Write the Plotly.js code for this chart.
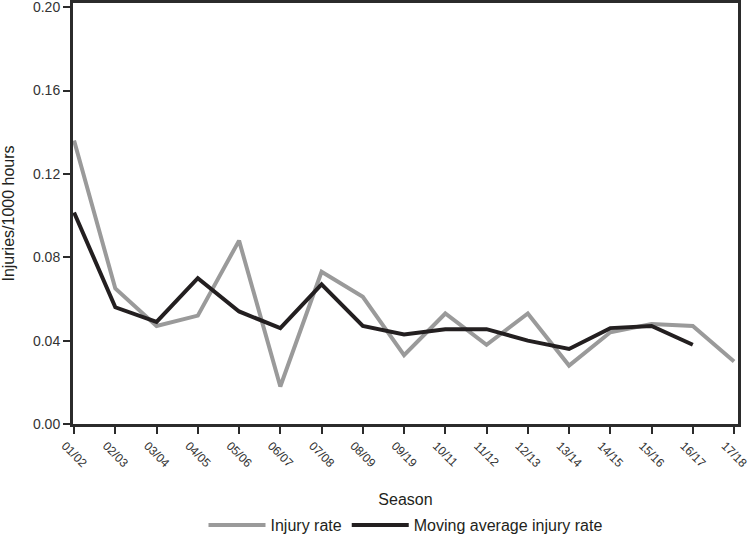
<!DOCTYPE html>
<html>
<head>
<meta charset="utf-8">
<script src="https://cdn.plot.ly/plotly-3.0.1.min.js"></script>
<style>html,body{margin:0;padding:0;background:#fff;overflow:hidden;}#chart{width:750px;height:538px;}</style>
</head>
<body>
<div id="chart"></div>
<script>
var seasons = ["01/02","02/03","03/04","04/05","05/06","06/07","07/08","08/09","09/19","10/11","11/12","12/13","13/14","14/15","15/16","16/17","17/18"];
var injuryRate = [0.136,0.065,0.047,0.052,0.088,0.018,0.073,0.061,0.033,0.053,0.038,0.053,0.028,0.044,0.048,0.047,0.030];
var movingAvg = [0.1015,0.056,0.049,0.070,0.054,0.046,0.067,0.047,0.043,0.0455,0.0455,0.040,0.036,0.046,0.047,0.038,null];
var yTicks = [0,0.04,0.08,0.12,0.16,0.20];
var yTickText = ["0.00","0.04","0.08","0.12","0.16","0.20"];

var font = "Liberation Sans, Arial, sans-serif";
var data = [
  {x: seasons, y: injuryRate, type: "scatter", mode: "lines", name: "Injury rate",
   line: {color: "#9a9a9a", width: 4}},
  {x: seasons, y: movingAvg, type: "scatter", mode: "lines", name: "Moving average injury rate",
   line: {color: "#231f20", width: 4}, connectgaps: false}
];
var layout = {
  width: 750, height: 538,
  margin: {l: 72, r: 11, t: 2, b: 113},
  paper_bgcolor: "#fff", plot_bgcolor: "#fff",
  font: {family: font, size: 13, color: "#333"},
  showlegend: true,
  legend: {orientation: "h", x: 0.5, xanchor: "center", xref: "paper",
           y: 0.024, yanchor: "middle", yref: "container", itemwidth: 57,
           font: {family: font, size: 16, color: "#231f20"}, traceorder: "normal"},
  shapes: [{type: "rect", xref: "paper", yref: "paper", x0: 0, x1: 1, y0: 0, y1: 1,
            line: {color: "#2b2b2b", width: 2}, fillcolor: "rgba(0,0,0,0)", layer: "above"}],
  xaxis: {
    type: "category", range: [-0.05, 16.12],
    showline: true, linecolor: "#2b2b2b", linewidth: 2, mirror: true,
    ticks: "outside", ticklen: 7, tickwidth: 2, tickcolor: "#2b2b2b",
    tickangle: 45, ticklabelshift: -9, ticklabeloverflow: "allow",
    showgrid: false, zeroline: false,
    tickfont: {family: font, size: 12, color: "#333"},
    title: {text: "Season", font: {family: font, size: 16, color: "#231f20"}, standoff: 28},
    automargin: false
  },
  yaxis: {
    range: [-0.0005, 0.2025],
    tickvals: yTicks, ticktext: yTickText,
    showline: true, linecolor: "#2b2b2b", linewidth: 2, mirror: true,
    ticks: "outside", ticklen: 7, tickwidth: 2, tickcolor: "#2b2b2b",
    ticklabeloverflow: "allow",
    showgrid: false, zeroline: false,
    tickfont: {family: font, size: 14, color: "#333"},
    title: {text: "Injuries/1000 hours", font: {family: font, size: 16, color: "#231f20"}, standoff: 14},
    automargin: false
  }
};
Plotly.newPlot("chart", data, layout, {displayModeBar: false, staticPlot: true});
</script>
</body>
</html>
